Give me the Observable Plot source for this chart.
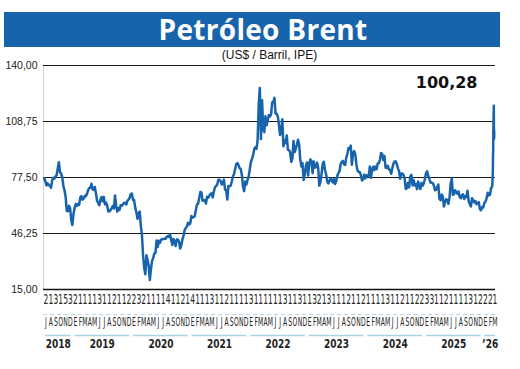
<!DOCTYPE html>
<html><head><meta charset="utf-8">
<script src="https://cdn.jsdelivr.net/npm/d3@7"></script>
<script src="https://cdn.jsdelivr.net/npm/@observablehq/plot@0.6"></script>
<style>
body{margin:0;background:#fff;width:520px;height:369px;overflow:hidden}
#wrap{padding-top:12px}
#title{margin-left:4px;width:496px;height:35px;background:#1764ad;color:#fff;font:bold 28px 'Open Sans',sans-serif;line-height:35px;text-align:center;padding-left:22px;box-sizing:border-box;white-space:nowrap;letter-spacing:0.3px}
#sub{height:16px;font:12px 'Liberation Sans',Arial,sans-serif;line-height:16px;text-align:center;padding-left:19px;color:#111}
</style></head><body><div id="wrap"><div id="title">Petróleo Brent</div><div id="sub">(US$ / Barril, IPE)</div><div id="chart"></div></div>
<script>
const yTicks = [15, 46.25, 77.5, 108.75, 140];
const monthInitials = ["E","F","M","A","M","J","J","A","S","O","N","D"];
const monthDigits = "21315321111311211223211114112141113112111131" + "11111311311321311" + "12112111131121122331121111312221";
const yearLabels = ["2018","2019","2020","2021","2022","2023","2024","2025","’26"];
const weeklyStart = "2018-07-06";
const w2018 = [77.1,75.3,73.1,74.3,73.2,72.8,71.8,75.8,77.4,76.8,78.1,78.8,82.7,86.0,80.4,79.8,77.6,72.8,70.2,66.8,58.8,58.7,61.7,60.3,53.8,51.0];
const w2019 = [57.1,60.5,62.7,61.6,62.8,62.1,66.3,67.1,65.1,65.7,67.2,67.0,68.4,70.3,71.6,71.9,74.0,70.9,70.6,72.2,68.7,64.5,63.3,62.0,65.2,66.6,64.2,66.7,62.5,63.5,61.9,58.5,58.6,59.3,60.4,61.5,60.2,67.5,61.9,58.4,60.5,59.4,62.0,61.7,62.5,63.3,63.4,62.4,64.4,65.2,66.1,68.2];
const w2020 = [68.6,65.0,64.9,60.7,58.2,54.5,57.3,58.5,50.5,45.3,33.9,27.0,23.5,34.1,31.5,28.1,20.3,26.4,31.0,32.5,35.1,35.3,42.3,38.7,42.2,41.0,42.8,43.2,43.1,43.3,43.3,44.4,44.8,44.4,45.8,42.7,39.8,43.2,41.9,39.3,42.9,42.9,41.8,37.9,39.5,42.8,45.0,48.2,49.3,50.0,52.3,51.3];
const w2021 = [51.8,56.0,55.1,55.4,55.9,59.3,62.4,62.9,66.1,69.4,69.2,64.5,64.6,64.9,63.0,66.8,66.1,67.3,68.3,68.7,66.4,69.6,71.9,72.7,73.5,76.2,76.2,75.6,73.6,74.1,76.3,70.7,70.6,65.2,72.7,72.6,72.9,75.3,78.1,79.3,82.4,84.9,85.5,84.4,82.7,82.2,78.9,72.7,69.9,75.2,73.5,76.1,77.8];
const w2022 = [81.8,86.1,87.9,90.0,93.3,94.4,93.5,97.9,118.1,127.5,99.0,120.6,104.4,102.8,111.7,106.7,109.3,112.4,111.6,112.6,119.4,119.7,122.0,113.1,113.1,111.6,107.0,101.2,103.2,110.0,94.9,98.2,96.7,101.0,93.0,92.8,91.4,86.2,88.0,97.9,91.6,93.5,95.8,98.6,96.0,87.6,83.6,85.6,76.1,79.0,83.9,85.9];
const w2023 = [78.6,85.3,87.6,86.7,79.9,86.4,83.0,83.2,85.8,82.8,73.0,75.0,79.8,85.1,86.3,81.7,79.5,75.3,74.2,75.6,77.0,76.1,74.8,76.6,73.9,75.4,78.5,79.9,81.1,85.0,86.2,86.8,84.8,84.5,88.6,90.7,93.9,93.3,95.3,84.6,90.9,92.2,90.5,84.9,81.4,80.6,80.6,78.9,75.8,76.6,79.1,77.0];
const w2024 = [78.8,78.3,78.6,83.6,77.3,82.2,83.5,81.6,83.6,82.1,85.3,85.4,87.5,91.2,90.5,87.3,89.5,83.0,82.8,84.0,82.1,81.6,79.6,82.6,85.2,86.4,86.5,85.0,82.6,81.1,76.8,79.7,79.7,79.0,76.9,71.1,71.6,74.5,72.0,78.1,79.0,73.1,76.1,73.1,73.9,71.0,75.2,72.9,71.1,74.5,72.9,74.2];
const w2025 = [76.5,79.8,81.0,78.5,76.8,74.7,74.7,74.4,73.2,70.4,70.6,72.2,73.6,65.6,64.8,68.0,66.9,61.3,63.9,65.4,64.8,62.8,66.5,74.2,77.0,67.8,68.3,70.4,69.3,68.4,69.7,66.6,65.9,67.7,68.1,65.5,67.0,66.7,70.1,64.5,62.7,61.3,65.9,65.1,63.6,64.4,62.6,63.2,63.8,60.0,59.2,61.0];
const w2026 = [60.8,63.3,64.1,65.9,69.0,67.5,67.8,71.5,72.5];
const tailDates = ["2026-03-02","2026-03-03","2026-03-04","2026-03-05","2026-03-06","2026-03-09","2026-03-10","2026-03-11","2026-03-12"];
const tailValues = [77.7,81.4,89.0,92.7,103.5,117.5,98.9,104.0,100.28];

const weekly = [].concat(w2018,w2019,w2020,w2021,w2022,w2023,w2024,w2025,w2026);
const t0 = new Date(weeklyStart);
const series = weekly.map((v,i)=>({date:d3.utcDay.offset(t0,7*i), value:v}))
  .concat(tailDates.map((d,i)=>({date:new Date(d), value:tailValues[i]})));
const start = new Date("2018-07-01"), end = new Date("2026-04-01");
const months = d3.utcMonth.range(start,end).map((m,i)=>({mid:d3.utcDay.offset(m,15), letter:monthInitials[m.getUTCMonth()], digit:monthDigits[i]||""}));
const years = yearLabels.map((label,i)=>{const y=2018+i; const a=y===2018?start:new Date(Date.UTC(y,0,1)); const b=y===2026?end:new Date(Date.UTC(y+1,0,1)); return {label,a,b,mid:new Date((+a + +b)/2)};});

const narrowA = "'Liberation Sans Narrow','DejaVu Sans Condensed',sans-serif";
const narrowC = "'Liberation Sans Narrow','DejaVu Sans Condensed',Helvetica,sans-serif";
const narrowB = "'Liberation Sans Narrow','DejaVu Sans Condensed',Arial,sans-serif";
const fmt = d=>d.toFixed(2).replace(".",",");
const last = series[series.length-1];

const chart = Plot.plot({
  width:520, height:306, marginTop:2, marginBottom:80, marginLeft:43, marginRight:23,
  style:{overflow:"visible", background:"transparent"},
  x:{type:"utc", domain:[start,end], axis:null},
  y:{domain:[15,140], axis:null},
  marks:[
    Plot.frame({anchor:"left", stroke:"#cfcfcf"}),
    Plot.ruleY(yTicks.slice(1), {stroke:"#1a1a1a", strokeWidth:1.2, insetRight:2}),
    Plot.ruleY([15], {stroke:"#111", strokeWidth:1.7, insetRight:2}),
    Plot.axisY(yTicks, {label:null, tickSize:0, tickPadding:6, tickFormat:fmt, fontSize:10.5, fontFamily:"'Liberation Sans',Arial,sans-serif", fill:"#222"}),
    Plot.lineY(series, {x:"date", y:"value", stroke:"#1764ad", strokeWidth:2.5, strokeLinejoin:"round"}),
    Plot.text([last], {text:d=>fmt(d.value), frameAnchor:"top-right", textAnchor:"end", dx:-20, dy:11, fontSize:16, fontWeight:"bold", fontFamily:"'DejaVu Sans',sans-serif", fill:"#111"}),
    Plot.text(months, {x:"mid", text:"digit", frameAnchor:"bottom", dy:14, fontSize:13.5, fontFamily:narrowA, fill:"#222"}),
    Plot.ruleY([15], {dy:25, stroke:"#b5d6e4", strokeDasharray:"4,3", strokeWidth:1}),
    Plot.text(months, {x:"mid", text:"letter", frameAnchor:"bottom", dy:36, fontSize:13, fontFamily:narrowC, fill:"#222"}),
    Plot.ruleY(years, {x1:"a", x2:"b", y:()=>15, dy:46, stroke:"#a8d4ea", strokeWidth:1.5, insetLeft:2, insetRight:2}),
    Plot.text(years, {x:"mid", text:"label", frameAnchor:"bottom", dy:58, fontSize:12.5, fontWeight:"bold", fontFamily:narrowB, fill:"#222"})
  ]
});
document.getElementById("chart").appendChild(chart);
function condense(fam, s){
  d3.select(chart).selectAll("g").filter(function(){return this.getAttribute("font-family")===fam;}).selectAll("text").each(function(){
    let t=this.getAttribute("transform");
    if(!t){t=`translate(${this.getAttribute("x")||0},${this.getAttribute("y")||0})`; this.removeAttribute("x"); this.removeAttribute("y");}
    this.setAttribute("transform", t+` scale(${s},1)`);
  });
}
condense(narrowA, 0.62);
condense(narrowC, 0.52);
condense(narrowB, 0.8);
</script></body></html>
